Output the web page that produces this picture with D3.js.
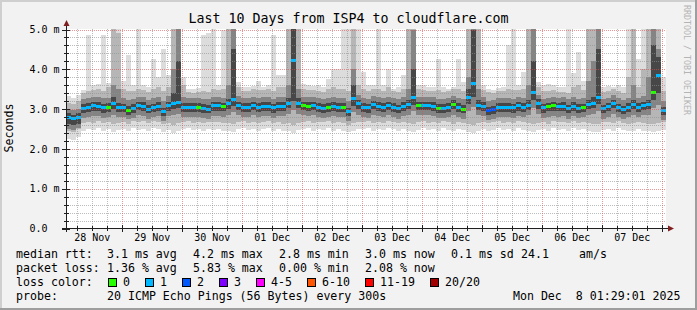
<!DOCTYPE html>
<html>
<head>
<meta charset="utf-8">
<script src="https://cdn.jsdelivr.net/npm/d3@7/dist/d3.min.js"></script>
<style>
  html, body { margin: 0; padding: 0; background: #f2f2f2; }
  svg { display: block; }
  text { font-family: "DejaVu Sans Mono", monospace; fill: #000; }
</style>
</head>
<body>
<script>
// values, one slot = 2 hours, in ms
const median = [
  2.80,2.76,2.80,3.02,3.05,3.08,3.07,3.03,3.05,3.15,
  3.05,3.04,2.97,3.02,3.09,3.07,3.00,3.04,3.07,2.94,
  3.08,3.13,3.17,3.05,3.05,3.05,3.05,3.02,3.00,3.08,
  3.08,3.06,3.13,3.24,3.09,3.05,3.05,3.09,3.05,3.07,
  3.07,3.03,3.07,3.07,3.15,4.21,3.15,3.09,3.07,3.09,
  3.05,3.02,3.05,3.07,3.05,3.05,2.94,3.26,3.13,3.05,
  3.03,3.11,3.07,3.05,3.09,3.05,3.01,3.07,3.12,3.28,
  3.09,3.09,3.09,3.07,3.02,3.02,3.05,3.12,3.05,3.00,
  3.30,3.64,3.10,3.07,2.96,2.99,3.05,3.05,3.05,3.03,
  3.08,3.05,3.10,3.42,3.14,3.03,3.06,3.08,3.06,3.07,
  3.01,3.07,3.02,3.04,3.11,3.15,3.28,3.01,3.06,3.14,
  3.04,2.99,3.05,3.11,3.05,3.09,3.11,3.42,3.84,2.96
];

// lost pings per slot (index into lossColors)
const loss = [
  1,1,1,1,1,1,1,1,0,1,
  1,1,0,1,1,1,1,1,1,1,
  1,1,1,1,1,1,0,1,1,1,
  1,0,1,1,1,1,1,1,1,1,
  1,1,1,1,1,1,1,0,0,1,
  1,1,0,1,1,0,1,1,1,1,
  1,1,1,1,1,1,1,1,1,1,
  0,1,1,1,0,1,1,0,1,0,
  1,1,1,1,2,2,1,1,1,1,
  1,1,1,1,1,1,0,0,1,1,
  1,1,1,0,1,1,1,1,1,1,
  1,1,1,1,1,1,1,0,1,1
];

// smoke: ping distribution per slot
const pMin = [
  2.25,2.22,2.30,2.46,2.50,2.48,2.52,2.45,2.50,2.42,
  2.47,2.50,2.44,2.52,2.48,2.50,2.45,2.52,2.49,2.43,
  2.47,2.40,2.45,2.50,2.52,2.47,2.50,2.45,2.50,2.48,
  2.50,2.46,2.44,2.42,2.50,2.52,2.47,2.50,2.45,2.49,
  2.52,2.46,2.50,2.44,2.45,2.40,2.47,2.50,2.52,2.45,
  2.50,2.48,2.52,2.46,2.50,2.45,2.42,2.45,2.50,2.49,
  2.52,2.46,2.50,2.47,2.53,2.49,2.45,2.50,2.46,2.43,
  2.48,2.52,2.47,2.50,2.46,2.52,2.48,2.44,2.50,2.47,
  2.43,2.40,2.46,2.50,2.45,2.48,2.52,2.47,2.50,2.46,
  2.52,2.48,2.45,2.42,2.47,2.50,2.44,2.52,2.48,2.50,
  2.46,2.52,2.47,2.50,2.45,2.43,2.42,2.48,2.50,2.46,
  2.52,2.47,2.44,2.45,2.50,2.46,2.44,2.42,2.45,2.48
];
const p10 = [
  2.45,2.42,2.50,2.66,2.68,2.66,2.70,2.64,2.68,2.62,
  2.66,2.68,2.63,2.70,2.67,2.69,2.64,2.70,2.68,2.62,
  2.66,2.60,2.64,2.68,2.70,2.66,2.68,2.64,2.68,2.67,
  2.68,2.65,2.64,2.62,2.68,2.70,2.66,2.68,2.64,2.67,
  2.70,2.65,2.68,2.63,2.64,2.60,2.66,2.68,2.70,2.64,
  2.68,2.67,2.70,2.65,2.68,2.64,2.60,2.64,2.68,2.67,
  2.70,2.65,2.68,2.66,2.71,2.67,2.64,2.68,2.65,2.62,
  2.67,2.70,2.66,2.68,2.65,2.70,2.67,2.63,2.68,2.66,
  2.62,2.60,2.65,2.68,2.64,2.67,2.70,2.66,2.68,2.65,
  2.70,2.67,2.64,2.62,2.66,2.68,2.63,2.70,2.67,2.68,
  2.65,2.70,2.66,2.68,2.64,2.62,2.62,2.67,2.68,2.65,
  2.70,2.66,2.63,2.64,2.68,2.65,2.63,2.62,2.64,2.67
];
const p25 = [
  2.50,2.48,2.52,2.78,2.80,2.83,2.82,2.78,2.80,2.86,
  2.80,2.79,2.74,2.78,2.84,2.82,2.76,2.79,2.82,2.71,
  2.83,2.86,2.88,2.80,2.80,2.80,2.80,2.77,2.76,2.83,
  2.83,2.81,2.86,2.92,2.84,2.80,2.80,2.84,2.80,2.82,
  2.82,2.78,2.82,2.82,2.88,2.98,2.88,2.84,2.82,2.84,
  2.80,2.77,2.80,2.82,2.80,2.80,2.71,2.92,2.86,2.80,
  2.78,2.86,2.82,2.80,2.84,2.80,2.76,2.82,2.86,2.94,
  2.84,2.84,2.84,2.82,2.77,2.77,2.80,2.86,2.80,2.76,
  2.96,3.05,2.84,2.82,2.72,2.75,2.80,2.80,2.80,2.78,
  2.83,2.80,2.84,3.02,2.87,2.78,2.81,2.83,2.81,2.82,
  2.76,2.82,2.77,2.79,2.85,2.88,2.96,2.76,2.81,2.88,
  2.79,2.74,2.80,2.85,2.80,2.84,2.85,3.02,3.10,2.72
];
const p40 = [
  2.62,2.60,2.62,2.90,2.93,2.96,2.95,2.91,2.93,3.00,
  2.93,2.92,2.86,2.90,2.97,2.95,2.89,2.92,2.95,2.83,
  2.96,3.00,3.04,2.93,2.93,2.93,2.93,2.90,2.89,2.96,
  2.96,2.94,3.00,3.08,2.97,2.93,2.93,2.97,2.93,2.95,
  2.95,2.91,2.95,2.95,3.02,3.20,3.02,2.97,2.95,2.97,
  2.93,2.90,2.93,2.95,2.93,2.93,2.83,3.08,3.00,2.93,
  2.91,2.99,2.95,2.93,2.97,2.93,2.89,2.95,3.00,3.10,
  2.97,2.97,2.97,2.95,2.90,2.90,2.93,3.00,2.93,2.89,
  3.12,3.30,2.97,2.95,2.85,2.88,2.93,2.93,2.93,2.91,
  2.96,2.93,2.98,3.22,3.01,2.91,2.94,2.96,2.94,2.95,
  2.89,2.95,2.90,2.92,2.99,3.02,3.12,2.89,2.94,3.02,
  2.92,2.87,2.93,2.99,2.93,2.97,2.99,3.22,3.40,2.85
];
const p60 = [
  2.90,2.86,2.90,3.12,3.15,3.18,3.17,3.13,3.15,3.30,
  3.15,3.14,3.07,3.12,3.19,3.17,3.10,3.14,3.17,3.04,
  3.18,3.40,4.20,3.15,3.15,3.15,3.15,3.12,3.10,3.18,
  3.18,3.16,3.25,4.50,3.19,3.15,3.15,3.19,3.15,3.17,
  3.17,3.13,3.17,3.17,3.28,5.10,3.27,3.19,3.17,3.19,
  3.15,3.12,3.15,3.17,3.15,3.15,3.04,3.60,3.24,3.15,
  3.13,3.21,3.17,3.15,3.19,3.15,3.11,3.17,3.24,4.00,
  3.19,3.19,3.19,3.17,3.12,3.12,3.15,3.22,3.15,3.10,
  3.50,5.00,3.22,3.17,3.06,3.09,3.15,3.15,3.15,3.13,
  3.18,3.15,3.22,4.20,3.25,3.13,3.16,3.18,3.16,3.17,
  3.11,3.17,3.12,3.14,3.22,3.30,4.50,3.11,3.16,3.24,
  3.14,3.09,3.15,3.23,3.15,3.19,3.22,4.60,4.30,3.06
];
const p75 = [
  3.00,2.98,3.00,3.25,3.28,3.30,3.30,3.27,3.28,3.60,
  3.50,3.28,3.22,3.26,3.30,3.30,3.24,3.28,3.30,3.20,
  3.32,4.00,5.10,3.30,3.28,3.28,3.28,3.26,3.25,3.30,
  3.30,3.28,3.60,5.10,3.32,3.28,3.28,3.30,3.28,3.30,
  3.30,3.26,3.30,3.30,3.60,5.10,3.50,3.30,3.30,3.30,
  3.28,3.25,3.28,3.30,3.28,3.28,3.20,4.00,3.35,3.28,
  3.26,3.32,3.30,3.28,3.30,3.28,3.25,3.30,3.50,5.00,
  3.30,3.30,3.30,3.30,3.25,3.25,3.28,3.32,3.28,3.25,
  3.80,5.10,3.50,3.30,3.20,3.22,3.28,3.28,3.28,3.26,
  3.30,3.28,3.60,5.10,3.36,3.26,3.28,3.30,3.28,3.30,
  3.25,3.30,3.25,3.27,3.70,4.20,5.10,3.25,3.28,3.35,
  3.27,3.22,3.28,3.60,3.28,3.32,3.80,5.10,4.50,3.20
];
const p90 = [
  3.15,3.12,3.20,3.40,3.45,3.48,3.50,3.45,3.55,5.10,
  4.90,3.50,3.45,3.45,3.50,3.48,3.42,3.50,3.55,3.45,
  3.55,5.10,5.10,3.60,3.42,3.40,3.42,3.45,3.42,3.50,
  3.48,3.50,5.10,5.10,3.55,3.45,3.45,3.50,3.48,3.48,
  3.50,3.45,3.55,3.55,5.10,5.10,5.10,3.50,3.48,3.48,
  3.45,3.42,3.50,3.55,3.50,3.50,3.45,5.10,3.60,3.50,
  3.45,3.50,3.50,3.45,3.55,3.45,3.42,3.50,5.10,5.10,
  3.50,3.48,3.45,3.45,3.48,3.42,3.45,3.50,3.50,3.45,
  5.10,5.10,5.10,3.48,3.42,3.40,3.45,3.45,3.50,3.48,
  3.48,3.50,5.10,5.10,3.55,3.45,3.45,3.48,3.42,3.42,
  3.40,3.55,3.60,3.48,5.10,5.10,5.10,3.42,3.45,3.50,
  3.45,3.40,3.80,5.10,3.55,4.00,5.10,5.10,5.10,3.45
];
const pMax = [
  3.32,3.28,3.35,3.47,4.85,3.60,3.62,4.85,3.65,5.10,
  5.10,3.70,4.35,3.60,5.10,3.60,3.55,4.26,3.80,4.50,
  3.85,5.10,5.10,3.80,3.50,3.50,3.52,4.85,4.90,5.10,
  3.60,5.00,5.10,5.10,3.68,3.55,3.55,3.58,3.70,3.55,
  3.60,4.85,3.85,3.85,5.10,5.10,5.10,3.62,3.60,3.58,
  3.60,3.55,3.76,4.00,4.00,5.10,5.10,5.10,5.10,3.93,
  3.60,3.60,5.10,3.60,4.00,3.50,3.55,3.85,5.10,5.10,
  3.60,3.60,3.55,3.55,4.26,3.55,3.50,3.55,4.26,3.68,
  5.10,5.10,5.10,3.60,3.50,3.48,3.52,3.55,4.60,5.10,
  3.60,3.93,5.10,5.10,3.68,3.60,3.62,3.60,3.55,3.55,
  5.10,3.90,4.43,3.70,5.10,5.10,5.10,3.55,3.58,3.55,
  3.60,3.55,5.10,5.10,4.26,5.10,5.10,5.10,5.10,3.80
];

const yTicks = [0, 1, 2, 3, 4, 5];
const yTickLabels = ["0.0", "1.0 m", "2.0 m", "3.0 m", "4.0 m", "5.0 m"];

const lossLabels = ["0", "1", "2", "3", "4-5", "6-10", "11-19", "20/20"];
const lossColors = ["#26ff00", "#00b8ff", "#0059ff", "#7e00ff", "#ff00ff", "#ff5500", "#ff0000", "#a00000"];

const statRows = [
  ["median rtt:", "3.1 ms avg", "4.2 ms max", "2.8 ms min", "3.0 ms now", "0.1 ms sd", "24.1", "am/s"],
  ["packet loss:", "1.36 % avg", "5.83 % max", "0.00 % min", "2.08 % now"]
];

//Declare const variables
const width = 697;
const height = 310;
const plotL = 66, plotR = 666, plotT = 29, plotB = 228.5;

const tEnd = Date.UTC(2025, 11, 8, 1, 29, 1);
const tStart = tEnd - 10 * 24 * 3600 * 1000;
const step = 2 * 3600 * 1000;

//Scales
const xScale = d3.scaleUtc()
  .domain([new Date(tStart), new Date(tEnd)])
  .range([plotL, plotR]);

const yScale = d3.scaleLinear()
  .domain([0, 5])
  .range([plotB, 29.5]);

//SVG
const svg = d3.select("body")
  .append("svg")
  .attr("width", width)
  .attr("height", height);

svg.append("rect").attr("width", width).attr("height", height).attr("fill", "#f2f2f2");
svg.append("rect").attr("x", 0).attr("y", 0).attr("width", width).attr("height", 2).attr("fill", "#cfcfcf");
svg.append("rect").attr("x", 0).attr("y", 0).attr("width", 2).attr("height", height).attr("fill", "#cfcfcf");
svg.append("rect").attr("x", 0).attr("y", height - 2).attr("width", width).attr("height", 2).attr("fill", "#9e9e9e");
svg.append("rect").attr("x", width - 2).attr("y", 0).attr("width", 2).attr("height", height).attr("fill", "#9e9e9e");

//Canvas
svg.append("rect")
  .attr("x", plotL).attr("y", plotT)
  .attr("width", plotR - plotL).attr("height", plotB - plotT)
  .attr("fill", "#fff");

svg.append("clipPath").attr("id", "plot")
  .append("rect")
  .attr("x", plotL).attr("y", plotT)
  .attr("width", plotR - plotL).attr("height", plotB - plotT);

const slots = median.map((m, i) => ({
  i: i,
  t0: new Date(tStart + i * step),
  t1: new Date(tStart + (i + 1) * step)
}));

//Smoke layers, outside to inside
const layers = [
  { lo: pMin, hi: pMax, color: "#dcdcdc" },
  { lo: p10, hi: p90, color: "#b6b6b6" },
  { lo: p25, hi: p75, color: "#848484" },
  { lo: p40, hi: p60, color: "#474747" }
];

const smoke = svg.append("g").attr("clip-path", "url(#plot)").attr("shape-rendering", "crispEdges");

layers.forEach(layer => {
  smoke.append("g")
    .selectAll("rect")
    .data(slots)
    .join("rect")
    .attr("x", d => xScale(d.t0))
    .attr("width", d => xScale(d.t1) - xScale(d.t0))
    .attr("y", d => yScale(layer.hi[d.i]))
    .attr("height", d => yScale(layer.lo[d.i]) - yScale(layer.hi[d.i]))
    .attr("fill", layer.color);
});

//Median, coloured by loss
smoke.append("g")
  .selectAll("rect")
  .data(slots)
  .join("rect")
  .attr("x", d => xScale(d.t0))
  .attr("width", d => xScale(d.t1) - xScale(d.t0))
  .attr("y", d => Math.round(yScale(median[d.i]) - 1.5))
  .attr("height", 3)
  .attr("fill", d => lossColors[loss[d.i]]);

//Grid (drawn over the data like rrdtool)
const grid = svg.append("g").attr("shape-rendering", "crispEdges");
const minorY = d3.range(1, 25).map(k => k / 5).filter(v => Math.abs(v - Math.round(v)) > 1e-6);
const minorX = d3.utcHour.every(6).range(new Date(tStart), new Date(tEnd)).filter(d => d.getUTCHours() !== 0);
const majorX = d3.utcDay.range(new Date(tStart), new Date(tEnd));

grid.selectAll(".gy").data(minorY).join("line")
  .attr("x1", plotL).attr("x2", plotR)
  .attr("y1", d => Math.round(yScale(d)) + 0.5).attr("y2", d => Math.round(yScale(d)) + 0.5)
  .attr("stroke", "rgba(143,143,143,0.6)").attr("stroke-dasharray", "1,1");

grid.selectAll(".gx").data(minorX).join("line")
  .attr("y1", plotT).attr("y2", plotB)
  .attr("x1", d => Math.round(xScale(d)) + 0.5).attr("x2", d => Math.round(xScale(d)) + 0.5)
  .attr("stroke", "rgba(143,143,143,0.6)").attr("stroke-dasharray", "1,1");

grid.selectAll(".my").data(yTicks.slice(1)).join("line")
  .attr("x1", plotL).attr("x2", plotR)
  .attr("y1", d => Math.round(yScale(d)) + 0.5).attr("y2", d => Math.round(yScale(d)) + 0.5)
  .attr("stroke", "rgba(222,79,79,0.6)").attr("stroke-dasharray", "1,1");

grid.selectAll(".mx").data(majorX).join("line")
  .attr("y1", plotT).attr("y2", plotB)
  .attr("x1", d => Math.round(xScale(d)) + 0.5).attr("x2", d => Math.round(xScale(d)) + 0.5)
  .attr("stroke", "rgba(222,79,79,0.6)").attr("stroke-dasharray", "1,1");

//Axes
const axis = svg.append("g").attr("shape-rendering", "crispEdges").attr("stroke", "#1f1f1f");
axis.append("line").attr("x1", 62).attr("x2", 669).attr("y1", 228.5).attr("y2", 228.5);
axis.append("line").attr("x1", 66.5).attr("x2", 66.5).attr("y1", 232).attr("y2", 24);

axis.selectAll(".ty").data(minorY).join("line")
  .attr("x1", 64).attr("x2", 69)
  .attr("y1", d => Math.round(yScale(d)) + 0.5).attr("y2", d => Math.round(yScale(d)) + 0.5);
axis.selectAll(".tY").data(yTicks).join("line")
  .attr("x1", 62).attr("x2", 70)
  .attr("y1", d => Math.round(yScale(d)) + 0.5).attr("y2", d => Math.round(yScale(d)) + 0.5);
axis.selectAll(".tx").data(minorX).join("line")
  .attr("y1", 226).attr("y2", 231)
  .attr("x1", d => Math.round(xScale(d)) + 0.5).attr("x2", d => Math.round(xScale(d)) + 0.5);
axis.selectAll(".tX").data(majorX).join("line")
  .attr("y1", 225).attr("y2", 232)
  .attr("x1", d => Math.round(xScale(d)) + 0.5).attr("x2", d => Math.round(xScale(d)) + 0.5);

svg.append("path").attr("d", "M63.5,26L69.5,26L66.5,20Z").attr("fill", "#801f1f");
svg.append("path").attr("d", "M668,225.5L668,231.5L674,228.5Z").attr("fill", "#801f1f");

//Axis labels
svg.selectAll(".ylab").data(yTicks).join("text")
  .attr("x", 29.5)
  .attr("y", d => yScale(d) + 3.6)
  .attr("font-size", 10)
  .style("white-space", "pre")
  .text((d, i) => yTickLabels[i]);

const noon = d3.utcDay.range(new Date(tStart - 24 * 3600 * 1000), new Date(tEnd))
  .map(d => new Date(+d + 12 * 3600 * 1000))
  .filter(d => xScale(d) > plotL && xScale(d) < plotR);

svg.selectAll(".xlab").data(noon).join("text")
  .attr("x", d => xScale(d))
  .attr("y", 241)
  .attr("font-size", 10)
  .attr("text-anchor", "middle")
  .text(d => d3.utcFormat("%d %b")(d));

svg.append("text")
  .attr("transform", "translate(13,128) rotate(-90)")
  .attr("text-anchor", "middle")
  .attr("font-size", 11.6)
  .text("Seconds");

svg.append("text")
  .attr("x", 348.5).attr("y", 23)
  .attr("text-anchor", "middle")
  .attr("font-size", 13.3)
  .text("Last 10 Days from ISP4 to cloudflare.com");

svg.append("text")
  .attr("transform", "translate(684,5) rotate(90)")
  .attr("font-size", 8.3)
  .style("fill", "#b4b4b4")
  .text("RRDTOOL / TOBI OETIKER");

//Legend
const statX = [16, 107, 193, 279, 365, 451, 521, 579];
statRows.forEach((row, r) => {
  row.forEach((s, c) => {
    svg.append("text")
      .attr("x", statX[c]).attr("y", 258 + r * 14)
      .attr("font-size", 11.6)
      .style("white-space", "pre")
      .text(s);
  });
});

svg.append("text").attr("x", 16).attr("y", 286).attr("font-size", 11.6).text("loss color:");
let bx = 108;
lossLabels.forEach((lab, k) => {
  svg.append("rect")
    .attr("x", bx + 0.5).attr("y", 278.5)
    .attr("width", 8).attr("height", 8)
    .attr("fill", lossColors[k]).attr("stroke", "#000");
  svg.append("text")
    .attr("x", bx + 15).attr("y", 286)
    .attr("font-size", 11.6)
    .text(lab);
  bx += 30 + 7 * lab.length;
});

svg.append("text").attr("x", 16).attr("y", 300).attr("font-size", 11.6).text("probe:");
svg.append("text").attr("x", 107).attr("y", 300).attr("font-size", 11.6)
  .text("20 ICMP Echo Pings (56 Bytes) every 300s");
svg.append("text").attr("x", 680.5).attr("y", 300).attr("font-size", 11.6)
  .attr("text-anchor", "end").style("white-space", "pre")
  .text("Mon Dec  8 01:29:01 2025");
</script>
</body>
</html>
